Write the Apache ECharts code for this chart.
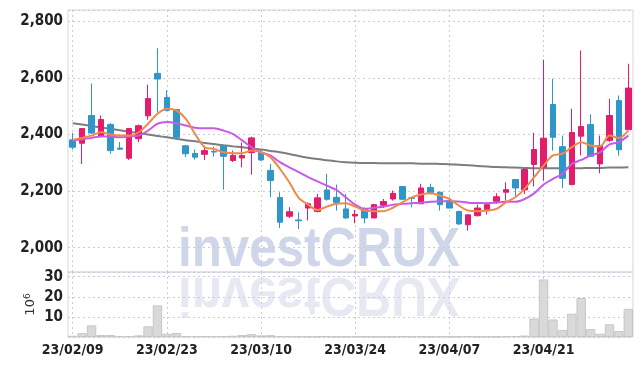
<!DOCTYPE html>
<html>
<head>
<meta charset="utf-8">
<script src="https://cdn.jsdelivr.net/npm/echarts@6/dist/echarts.min.js"></script>
<style>
  html, body { margin: 0; padding: 0; background: #fff; }
  #chart { width: 642px; height: 366px; }
</style>
</head>
<body>
<div id="chart"></div>
<script>
const dates = [
  '23/02/09', '23/02/10', '23/02/13', '23/02/14', '23/02/15', '23/02/16', '23/02/17', '23/02/20', '23/02/21', '23/02/22',
  '23/02/23', '23/02/24', '23/02/27', '23/02/28', '23/03/02', '23/03/03', '23/03/06', '23/03/07', '23/03/08', '23/03/09',
  '23/03/10', '23/03/13', '23/03/14', '23/03/15', '23/03/16', '23/03/17', '23/03/20', '23/03/21', '23/03/22', '23/03/23',
  '23/03/24', '23/03/27', '23/03/28', '23/03/29', '23/03/30', '23/03/31', '23/04/03', '23/04/04', '23/04/05', '23/04/06',
  '23/04/07', '23/04/10', '23/04/11', '23/04/12', '23/04/13', '23/04/14', '23/04/17', '23/04/18', '23/04/19', '23/04/20',
  '23/04/21', '23/04/24', '23/04/25', '23/04/26', '23/04/27', '23/04/28', '23/05/02', '23/05/03', '23/05/04', '23/05/08'
]

// [open, close, low, high]
const ohlc = [
  [2381, 2355, 2347, 2405], [2369, 2421, 2296, 2421], [2467, 2405, 2402, 2580], [2393, 2453, 2390, 2467],
  [2435, 2343, 2332, 2440], [2352, 2348, 2346, 2373], [2316, 2421, 2310, 2421], [2385, 2431, 2373, 2435],
  [2466, 2527, 2452, 2576], [2616, 2596, 2478, 2705], [2531, 2485, 2482, 2556], [2488, 2390, 2388, 2490],
  [2360, 2332, 2320, 2363], [2333, 2320, 2311, 2347], [2330, 2343, 2310, 2360], [2340, 2338, 2322, 2357],
  [2359, 2323, 2205, 2360], [2308, 2326, 2303, 2343], [2317, 2326, 2284, 2372], [2336, 2388, 2258, 2392],
  [2337, 2310, 2307, 2346], [2273, 2237, 2178, 2296], [2177, 2090, 2070, 2196], [2111, 2127, 2105, 2143],
  [2098, 2095, 2066, 2125], [2140, 2155, 2096, 2160], [2128, 2176, 2125, 2190], [2204, 2171, 2166, 2261],
  [2178, 2160, 2131, 2223], [2137, 2105, 2102, 2190], [2112, 2118, 2086, 2133], [2137, 2105, 2086, 2143],
  [2105, 2152, 2105, 2155], [2150, 2163, 2140, 2172], [2172, 2192, 2166, 2202], [2216, 2171, 2171, 2216],
  [2176, 2174, 2143, 2178], [2155, 2211, 2155, 2226], [2213, 2195, 2188, 2226], [2196, 2152, 2131, 2198],
  [2166, 2140, 2140, 2178], [2128, 2084, 2080, 2130], [2081, 2116, 2060, 2118], [2113, 2140, 2110, 2152],
  [2134, 2152, 2117, 2162], [2164, 2180, 2155, 2192], [2196, 2205, 2166, 2231], [2241, 2211, 2178, 2241],
  [2204, 2276, 2190, 2280], [2294, 2347, 2216, 2406], [2284, 2387, 2237, 2664], [2506, 2390, 2343, 2597],
  [2357, 2245, 2211, 2396], [2223, 2407, 2220, 2491], [2394, 2428, 2326, 2697], [2435, 2323, 2320, 2471],
  [2296, 2361, 2263, 2396], [2379, 2467, 2373, 2526], [2520, 2346, 2325, 2538], [2417, 2564, 2417, 2650]
]

// moving averages
const maShort = [
  2381, 2388, 2396, 2408, 2400, 2396, 2396, 2408, 2438, 2473,
  2491, 2485, 2456, 2402, 2355, 2349, 2337, 2334, 2334, 2343,
  2337, 2320, 2279, 2231, 2176, 2152, 2133, 2145, 2155, 2157,
  2145, 2131, 2129, 2129, 2141, 2160, 2178, 2188, 2192, 2184,
  2172, 2149, 2131, 2129, 2131, 2137, 2160, 2178, 2208, 2249,
  2290, 2326, 2332, 2355, 2373, 2361, 2358, 2396, 2388, 2414
]
const maMid = [
  2379, 2383, 2388, 2393, 2393, 2390, 2393, 2396, 2414, 2438,
  2444, 2440, 2432, 2424, 2422, 2422, 2414, 2402, 2379, 2355,
  2337, 2326, 2302, 2284, 2267, 2249, 2234, 2219, 2204, 2178,
  2152, 2137, 2141, 2145, 2152, 2155, 2157, 2159, 2162, 2164,
  2164, 2163, 2159, 2158, 2157, 2159, 2162, 2162, 2172, 2192,
  2223, 2243, 2261, 2296, 2310, 2326, 2337, 2365, 2373, 2396
]
const maLong = [
  2440, 2435, 2430, 2425, 2420, 2415, 2410, 2405, 2400, 2395,
  2390, 2385, 2380, 2376, 2370, 2366, 2362, 2358, 2355, 2351,
  2347, 2342, 2337, 2331, 2324, 2318, 2313, 2309, 2305, 2302,
  2300, 2299, 2299, 2298, 2298, 2298, 2298, 2297, 2297, 2296,
  2295, 2293, 2291, 2289, 2287, 2285, 2284, 2283, 2282, 2281,
  2281, 2281, 2281, 2281, 2281, 2282, 2282, 2283, 2283, 2284
]

// volume in 10^6
const volume = [
  0.6, 1.9, 5.8, 1.0, 1.0, 0.5, 0.5, 0.8, 5.3, 15.7,
  1.6, 2.0, 0.5, 0.5, 0.5, 0.5, 0.5, 0.6, 1.0, 1.4,
  0.8, 0.9, 0.5, 0.5, 0.4, 0.3, 0.3, 0.4, 0.3, 0.3,
  0.4, 0.3, 0.3, 0.3, 0.3, 0.4, 0.3, 0.4, 0.3, 0.4,
  0.3, 0.4, 0.4, 0.3, 0.3, 0.2, 0.5, 0.5, 0.7, 9.2,
  28.6, 8.7, 3.5, 11.6, 19.4, 3.9, 1.6, 6.3, 3.0, 14.0
]

const labelFont = "'Liberation Sans Narrow', 'DejaVu Sans Condensed', sans-serif"
const markFont = 'bold 56px "Liberation Sans", Arial, sans-serif'
const gridLine = { show: true, lineStyle: { color: '#c9cce0', type: [2, 3], width: 1 } }

let myChart = echarts.init(document.getElementById('chart'))

let option = {
  animation: false,
  backgroundColor: '#fff',
  grid: [
    { left: 68, right: 9, top: 10, height: 262, show: true, borderColor: '#d6d6d6', borderWidth: 1 },
    { left: 68, right: 9, top: 272, height: 65, show: true, borderColor: '#d6d6d6', borderWidth: 1 }
  ],
  graphic: [
    {
      type: 'text', x: 178, y: 278.5, scaleX: 0.88, z: -1, silent: true,
      style: { text: 'investCRUX', font: markFont, fill: '#d0d6e9', verticalAlign: 'bottom' }
    },
    {
      type: 'text', x: 178, y: 265.5, scaleX: 0.88, scaleY: -1, z: -1, silent: true,
      style: { text: 'investCRUX', font: markFont, fill: '#e7e9f2', verticalAlign: 'bottom' }
    }
  ],
  xAxis: [
    {
      type: 'category',
      gridIndex: 0,
      data: dates,
      boundaryGap: true,
      axisLine: { show: false },
      axisTick: { show: false, alignWithLabel: true, interval: 9 },
      axisLabel: { show: false, interval: 9 },
      splitLine: Object.assign({ interval: 9, alignWithLabel: true }, gridLine)
    },
    {
      type: 'category',
      gridIndex: 1,
      data: dates,
      boundaryGap: true,
      axisLine: { show: false },
      axisTick: { show: false, alignWithLabel: true, interval: 9 },
      axisLabel: { interval: 9, color: '#222', fontFamily: labelFont, fontWeight: 'bold', fontSize: 14, margin: 6 },
      splitLine: Object.assign({ interval: 9, alignWithLabel: true }, gridLine)
    }
  ],
  yAxis: [
    {
      type: 'value',
      gridIndex: 0,
      min: 1914,
      max: 2840,
      splitNumber: 5,
      axisLine: { show: false },
      axisTick: { show: false },
      axisLabel: {
        color: '#222', fontFamily: labelFont, fontWeight: 'bold', fontSize: 15, margin: 5,
        showMinLabel: false, showMaxLabel: false,
        formatter: v => v.toLocaleString('en-US')
      },
      splitLine: gridLine
    },
    {
      type: 'value',
      gridIndex: 1,
      min: 0,
      max: 32.3,
      interval: 10,
      name: '{a|10}{b|6}',
      nameLocation: 'middle',
      nameRotate: 90,
      nameGap: 30,
      nameMoveOverlap: false,
      nameTextStyle: {
        rich: {
          a: { fontSize: 13, color: '#333', fontFamily: 'DejaVu Sans' },
          b: { fontSize: 9, color: '#333', fontFamily: 'DejaVu Sans', verticalAlign: 'top', padding: [0, 0, 6, 0] }
        }
      },
      axisLine: { show: false },
      axisTick: { show: false },
      axisLabel: {
        color: '#222', fontFamily: labelFont, fontWeight: 'bold', fontSize: 15, margin: 5,
        showMinLabel: false, showMaxLabel: false
      },
      splitLine: gridLine
    }
  ],
  series: [
    {
      name: 'price',
      type: 'candlestick',
      xAxisIndex: 0,
      yAxisIndex: 0,
      barWidth: 6,
      data: ohlc,
      itemStyle: {
        color: '#e31c6b',
        color0: '#2f96c9',
        borderColor: '#e31c6b',
        borderColor0: '#2f96c9',
        borderWidth: 1
      },
      z: 3
    },
    {
      name: 'MA long',
      type: 'line',
      xAxisIndex: 0,
      yAxisIndex: 0,
      data: maLong,
      smooth: 0.3,
      symbol: 'none',
      lineStyle: { color: '#7d7d7d', width: 2 },
      z: 2
    },
    {
      name: 'MA mid',
      type: 'line',
      xAxisIndex: 0,
      yAxisIndex: 0,
      data: maMid,
      smooth: 0.3,
      symbol: 'none',
      lineStyle: { color: '#c95ae6', width: 2 },
      z: 4
    },
    {
      name: 'MA short',
      type: 'line',
      xAxisIndex: 0,
      yAxisIndex: 0,
      data: maShort,
      smooth: 0.3,
      symbol: 'none',
      lineStyle: { color: '#ef8a4c', width: 2 },
      z: 5
    },
    {
      name: 'volume',
      type: 'bar',
      xAxisIndex: 1,
      yAxisIndex: 1,
      data: volume,
      barCategoryGap: '0%',
      itemStyle: { color: '#d9d9d9', borderColor: '#c6c6c6', borderWidth: 1 }
    }
  ]
}

myChart.setOption(option)
</script>
</body>
</html>
